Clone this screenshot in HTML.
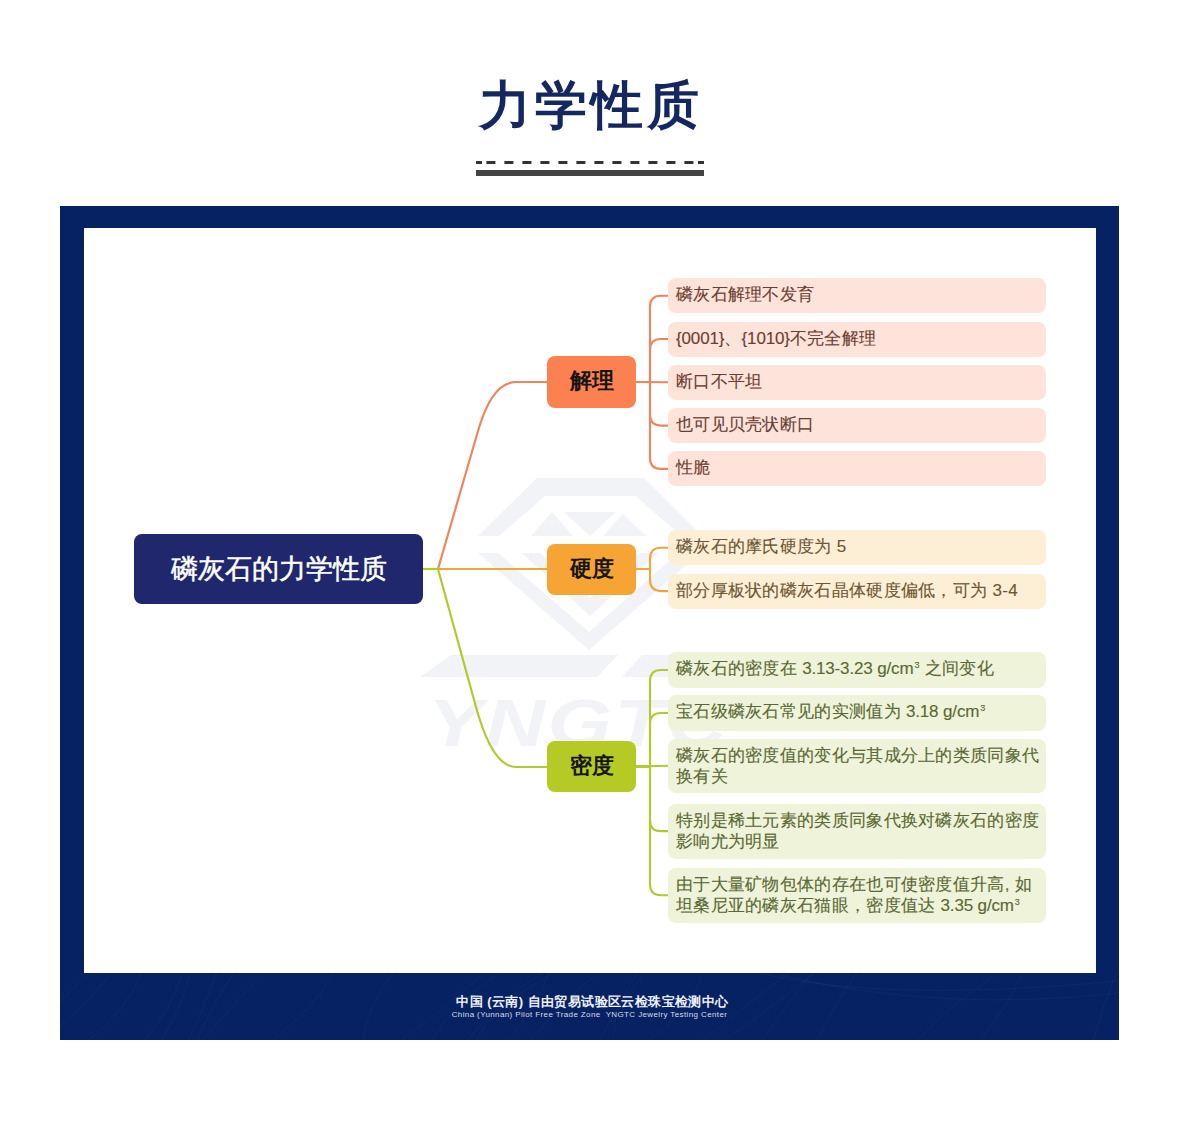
<!DOCTYPE html>
<html><head><meta charset="utf-8">
<style>
html,body{margin:0;padding:0;background:#fff;}
body{width:1179px;height:1142px;position:relative;overflow:hidden;font-family:"Liberation Sans",sans-serif;}
.abs{position:absolute;}
.title{position:absolute;left:1px;width:1179px;text-align:center;top:70.3px;height:70px;line-height:70px;font-size:52px;font-weight:bold;color:#14275f;letter-spacing:4px;}
.frame{position:absolute;left:60px;top:206px;width:1059px;height:834px;background:#072262;}
.inner{position:absolute;left:84px;top:228px;width:1012px;height:744.5px;background:#fff;}
.node{position:absolute;border-radius:8px;text-align:center;white-space:nowrap;font-weight:bold;color:#161616;}
.item{position:absolute;left:668px;width:378px;border-radius:8px;box-sizing:border-box;padding:0 0 0 8px;font-size:17px;letter-spacing:0.3px;white-space:nowrap;-webkit-text-stroke:0.12px currentColor;}
.one{height:35px;line-height:33px;}
.two{height:55px;line-height:21px;padding-top:6px;}
.l{letter-spacing:-0.15px;}
.p{background:#fee3da;color:#6b3e32;}
.o{background:#fdeed6;color:#6c5634;}
.g{background:#eff3d9;color:#5a6835;}
sup{font-size:9px;vertical-align:baseline;position:relative;top:-6px;line-height:0;margin-left:1px;}
.foot1{position:absolute;left:3px;width:1179px;text-align:center;top:993.5px;font-size:13px;font-weight:bold;color:#eef1f8;line-height:16px;letter-spacing:0.4px;}
.foot2{position:absolute;left:0;width:1179px;text-align:center;top:1010px;font-size:8px;color:#d5dcec;line-height:10px;letter-spacing:0.38px;}
</style></head><body>

<div class="title">力学性质</div>
<svg class="abs" style="left:0;top:0" width="1179" height="200"><rect x="476" y="161" width="6" height="3" fill="#333"/><rect x="486.4" y="161" width="9" height="3" fill="#333"/><rect x="504.4" y="161" width="9" height="3" fill="#333"/><rect x="522.4" y="161" width="9" height="3" fill="#333"/><rect x="540.4" y="161" width="9" height="3" fill="#333"/><rect x="558.4" y="161" width="9" height="3" fill="#333"/><rect x="576.4" y="161" width="9" height="3" fill="#333"/><rect x="594.4" y="161" width="9" height="3" fill="#333"/><rect x="612.4" y="161" width="9" height="3" fill="#333"/><rect x="630.4" y="161" width="9" height="3" fill="#333"/><rect x="648.4" y="161" width="9" height="3" fill="#333"/><rect x="666.4" y="161" width="9" height="3" fill="#333"/><rect x="684.4" y="161" width="9" height="3" fill="#333"/><rect x="698" y="161" width="6" height="3" fill="#333"/><rect x="476" y="170" width="228" height="6" fill="#444"/></svg>
<div class="frame"></div>
<svg class="abs" style="left:60px;top:973px" width="1059" height="67"><g fill="none" stroke="#4a6cb0" stroke-opacity="0.13" stroke-width="0.8"><path d="M302.7,67 Q307.0,33 333.3,0"/><path d="M540.2,67 Q555.1,33 585.8,0"/><path d="M-18.0,67 Q-13.8,33 32.4,0"/><path d="M415.5,67 Q434.4,33 493.3,0"/><path d="M642.7,67 Q685.5,33 729.1,0"/><path d="M1033.4,67 Q1042.1,33 1056.7,0"/><path d="M101.6,67 Q123.0,33 129.8,0"/><path d="M142.4,67 Q172.3,33 203.1,0"/><path d="M553.5,67 Q552.6,33 577.9,0"/><path d="M702.0,67 Q725.9,33 752.0,0"/><path d="M447.6,67 Q478.9,33 488.6,0"/><path d="M213.4,67 Q255.4,33 273.6,0"/><path d="M757.0,67 Q773.3,33 797.1,0"/><path d="M408.3,67 Q434.3,33 481.3,0"/><path d="M-16.1,67 Q26.6,33 50.7,0"/><path d="M920.5,67 Q947.6,33 962.5,0"/><path d="M589.5,67 Q635.9,33 641.4,0"/><path d="M471.0,67 Q498.6,33 537.5,0"/><path d="M664.8,67 Q714.6,33 754.3,0"/><path d="M372.1,67 Q391.6,33 438.9,0"/><path d="M128.2,67 Q145.4,33 156.4,0"/><path d="M84.9,67 Q113.0,33 122.2,0"/><path d="M30.3,67 Q68.5,33 81.7,0"/><path d="M857.6,67 Q888.2,33 938.1,0"/><path d="M341.8,67 Q387.3,33 423.7,0"/><path d="M137.4,67 Q151.2,33 173.6,0"/><path d="M700,0 Q820,30 1059,8"/><path d="M720,2 Q880,40 1059,20"/></g></svg>
<div class="inner"></div>
<svg class="abs" style="left:0;top:0" width="1179" height="1142"><g fill="#f2f3f6"><path d="M478,536 L537,478 L644,478 L701,535 L680,535 L636,496 L545,496 L499,536 Z"/><path d="M531,536 L552,512 L573,536 Z"/><path d="M564,512 L616,512 L590,536 Z"/><path d="M603,536 L623,514 L646,536 Z"/><path d="M478,553 L498,553 L589,632 L678,553 L700,553 L589,650 Z"/><path d="M522,553 L540,553 L590,598 L640,553 L658,553 L590,616 Z"/><path d="M451,655 L618,655 L597,677 L420,677 Z"/><path d="M642,655 L760,655 L760,677 L622,677 Z"/></g><text x="0" y="0" transform="translate(428,746) scale(1.25,1)" font-family="Liberation Sans" font-weight="bold" font-style="italic" font-size="66" fill="#f2f3f6" letter-spacing="2">YNGTC</text><path d="M438,569 L478,431 Q492,382 516,382 L548,382" fill="none" stroke="#f0855c" stroke-width="2.2"/><path d="M438,569 L548,569" fill="none" stroke="#f2a53c" stroke-width="2.2"/><path d="M438,569 L476,707 Q492.5,767 516,767 L548,767" fill="none" stroke="#b3c92c" stroke-width="2.2"/><path d="M422,569 L438,569" fill="none" stroke="#b3c92c" stroke-width="2.2"/><path d="M635,382 L650,382 L650,306.7 Q650,295.7 661,295.7 L668,295.7" fill="none" stroke="#f0855c" stroke-width="2.1"/><path d="M635,382 L650,382 L650,350.0 Q650,339.0 661,339.0 L668,339.0" fill="none" stroke="#f0855c" stroke-width="2.1"/><path d="M635,382 L668,382.3" fill="none" stroke="#f0855c" stroke-width="2.1"/><path d="M635,382 L650,382 L650,414.6 Q650,425.6 661,425.6 L668,425.6" fill="none" stroke="#f0855c" stroke-width="2.1"/><path d="M635,382 L650,382 L650,457.9 Q650,468.9 661,468.9 L668,468.9" fill="none" stroke="#f0855c" stroke-width="2.1"/><path d="M635,569 L650,569 L650,558.7 Q650,547.7 661,547.7 L668,547.7" fill="none" stroke="#f2a53c" stroke-width="2.1"/><path d="M635,569 L650,569 L650,580.1 Q650,591.1 661,591.1 L668,591.1" fill="none" stroke="#f2a53c" stroke-width="2.1"/><path d="M635,766.5 L650,766.5 L650,680.95 Q650,669.95 661,669.95 L668,669.95" fill="none" stroke="#b3c92c" stroke-width="2.1"/><path d="M635,766.5 L650,766.5 L650,724.0 Q650,713.0 661,713.0 L668,713.0" fill="none" stroke="#b3c92c" stroke-width="2.1"/><path d="M635,766.5 L668,765.7" fill="none" stroke="#b3c92c" stroke-width="2.1"/><path d="M635,766.5 L650,766.5 L650,820.15 Q650,831.15 661,831.15 L668,831.15" fill="none" stroke="#b3c92c" stroke-width="2.1"/><path d="M635,766.5 L650,766.5 L650,884.3 Q650,895.3 661,895.3 L668,895.3" fill="none" stroke="#b3c92c" stroke-width="2.1"/></svg>
<div class="node" style="left:134px;top:534px;width:289px;height:70px;line-height:70px;background:#20276c;color:#fff;font-size:27px;font-weight:normal;-webkit-text-stroke:0.5px #fff;">磷灰石的力学性质</div>
<div class="node" style="left:547px;top:356px;width:89px;height:52px;line-height:50px;background:#fb8151;font-size:22px;">解理</div>
<div class="node" style="left:547px;top:543.5px;width:89px;height:51.5px;line-height:49.5px;background:#f6a433;font-size:22px;">硬度</div>
<div class="node" style="left:547px;top:741px;width:89px;height:51px;line-height:49px;background:#b6ca26;font-size:22px;">密度</div>
<div class="item one p" style="top:278.2px">磷灰石解理不发育</div>
<div class="item one p" style="top:321.5px"><span class="l">{0001}</span>、<span class="l">{1010}</span>不完全解理</div>
<div class="item one p" style="top:364.8px">断口不平坦</div>
<div class="item one p" style="top:408.1px">也可见贝壳状断口</div>
<div class="item one p" style="top:451.4px">性脆</div>
<div class="item one o" style="top:530.2px">磷灰石的摩氏硬度为 5</div>
<div class="item one o" style="top:573.6px">部分厚板状的磷灰石晶体硬度偏低，可为 3-4</div>
<div class="item one g" style="top:652.2px;height:35.5px">磷灰石的密度在 <span class="l">3.13-3.23 g/cm</span><sup>3</sup> 之间变化</div>
<div class="item one g" style="top:695.4px;height:35.2px">宝石级磷灰石常见的实测值为 <span class="l">3.18 g/cm</span><sup>3</sup></div>
<div class="item two g" style="top:738.6px;height:54.2px">磷灰石的密度值的变化与其成分上的类质同象代<br>换有关</div>
<div class="item two g" style="top:803.5px;height:55.3px">特别是稀土元素的类质同象代换对磷灰石的密度<br>影响尤为明显</div>
<div class="item two g" style="top:867.5px;height:55.6px">由于大量矿物包体的存在也可使密度值升高, 如<br>坦桑尼亚的磷灰石猫眼，密度值达 <span class="l">3.35 g/cm</span><sup>3</sup></div>
<div class="foot1">中国 (云南) 自由贸易试验区云检珠宝检测中心</div>
<div class="foot2">China (Yunnan) Pilot Free Trade Zone&nbsp; YNGTC Jewelry Testing Center</div>
</body></html>
